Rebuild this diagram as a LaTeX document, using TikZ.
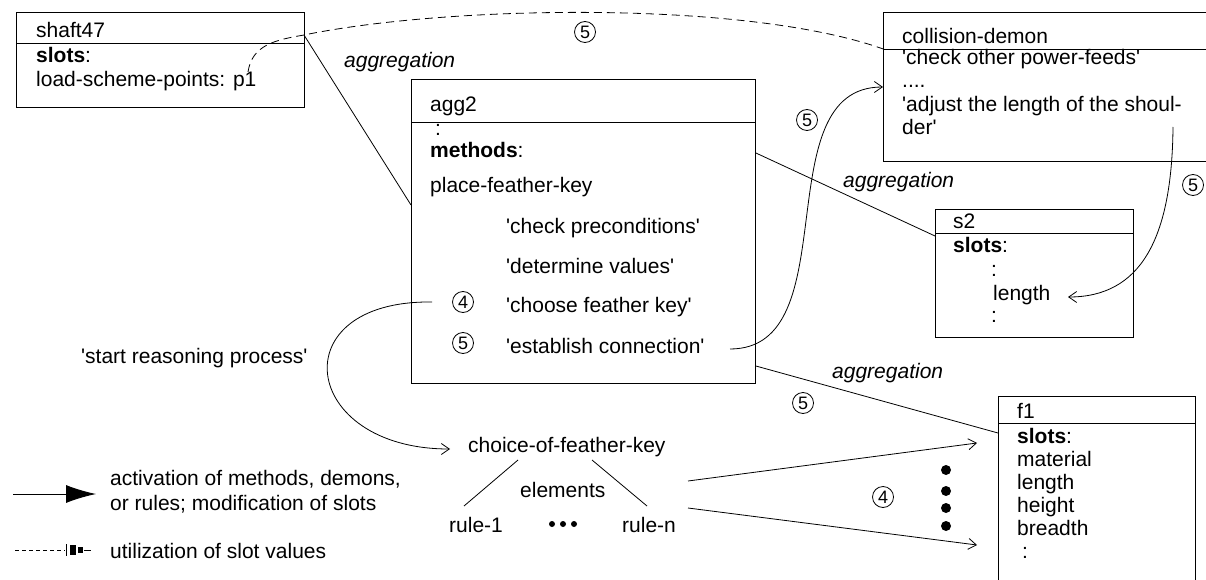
\documentclass[tikz,border=0pt]{standalone}
\usepackage{fontspec}
\setmainfont{Liberation Sans}[Ligatures=TeXOff]
\usetikzlibrary{arrows.meta}
\begin{document}
\begin{tikzpicture}[x=1pt,y=-1pt,
  every node/.style={inner sep=0pt,font=\fontsize{21}{23}\selectfont},
  txt/.style={anchor=base west},
  lbl/.style={anchor=base west,font=\fontsize{21}{23}\selectfont\itshape},
  num/.style={anchor=center,circle,draw,line width=0.8pt,minimum size=21pt,
              font=\fontsize{18}{18}\selectfont},
  framebox/.style={draw,line width=0.9pt,anchor=north west},
  conn/.style={line width=0.8pt},
  act/.style={line width=0.8pt,-{Straight Barb[length=8pt,width=11pt]}},
  util/.style={line width=0.8pt,dash pattern=on 8pt off 5pt},
  bigdot/.style={fill,circle,minimum size=10pt},
  smalldot/.style={fill,circle,minimum size=6pt}
  ]
\useasboundingbox (0,0) rectangle (1206,580);
\clip (0,0) rectangle (1206,580);

% ---------- shaft47 ----------
\node[framebox,minimum width=288pt,minimum height=95pt] (shaft) at (16,12) {};
\draw[line width=0.9pt] (shaft.west |- 0,43) -- (shaft.east |- 0,43);
\node[txt] (shaftname) at (36,38) {shaft47};
\node[txt] (shaftslots) at (36,63) {\textbf{slots}:};
\node[txt] (lsp) at (36,87) {load-scheme-points: p1};

% ---------- collision-demon ----------
\node[framebox,minimum width=340pt,minimum height=149pt] (demon) at (883,12) {};
\draw[line width=0.9pt] (demon.west |- 0,49) -- (demon.east |- 0,49);
\node[txt] (demonname) at (902,44) {collision-demon};
\node[txt] (dem1) at (902,65) {'check other power-feeds'};
\node[txt] (dem2) at (902,88) {....};
\node[txt] (dem3) at (902,112) {'adjust the length of the shoul-};
\node[txt] (dem4) at (902,135) {der'};

% ---------- agg2 ----------
\node[framebox,minimum width=344pt,minimum height=304pt] (agg) at (411,79) {};
\draw[line width=0.9pt] (agg.west |- 0,122) -- (agg.east |- 0,122);
\node[txt] (aggname) at (430,112) {agg2};
\node[txt] (aggdots) at (435,136) {:};
\node[txt] (methods) at (430,158) {\textbf{methods}:};
\node[txt] (place) at (430,193) {place-feather-key};
\node[txt] (check) at (506,233) {'check preconditions'};
\node[txt] (determine) at (506,273) {'determine values'};
\node[txt] (choose) at (506,312) {'choose feather key'};
\node[txt] (estab) at (506,353) {'establish connection'};
\node[num] (n4a) at (463,302) {4};
\node[num] (n5a) at (463,343) {5};

% ---------- s2 ----------
\node[framebox,minimum width=198pt,minimum height=128pt] (s2) at (935,209) {};
\draw[line width=0.9pt] (s2.west |- 0,233) -- (s2.east |- 0,233);
\node[txt] (s2name) at (953,228) {s2};
\node[txt] (s2slots) at (953,252) {\textbf{slots}:};
\node[txt] (s2d1) at (991,276) {:};
\node[txt] (len) at (993,300) {length};
\node[txt] (s2d2) at (991,322) {:};

% ---------- f1 ----------
\node[framebox,minimum width=197pt,minimum height=200pt] (f1) at (998,396) {};
\draw[line width=0.9pt] (f1.west |- 0,423) -- (f1.east |- 0,423);
\node[txt] (f1name) at (1017,418) {f1};
\node[txt] (f1slots) at (1017,443) {\textbf{slots}:};
\node[txt] (mat) at (1017,466) {material};
\node[txt] (flen) at (1017,489) {length};
\node[txt] (hei) at (1017,512) {height};
\node[txt] (bre) at (1017,535) {breadth};
\node[txt] (f1d) at (1022,558) {:};

% ---------- rules ----------
\node[txt] (choice) at (468,452) {choice-of-feather-key};
\node[txt] (elements) at (520,497) {elements};
\node[txt] (rule1) at (449,532) {rule-1};
\node[txt] (rulen) at (622,532) {rule-n};
\node[smalldot] (d1) at (552,524) {};
\node[smalldot] (d2) at (563,524) {};
\node[smalldot] (d3) at (574,524) {};
\node[txt] (start) at (81,363) {'start reasoning process'};

% ---------- labels ----------
\node[lbl] (agl1) at (344,68) {aggregation};
\node[lbl] (agl2) at (843,187) {aggregation};
\node[lbl] (agl3) at (832,378) {aggregation};
\node[num] (n5top) at (585,32) {5};
\node[num] (n5mid) at (807,120) {5};
\node[num] (n5right) at (1193,185) {5};
\node[num] (n5low) at (803,403) {5};
\node[num] (n4low) at (883,497) {4};
\node[bigdot] (b1) at (946,470) {};
\node[bigdot] (b2) at (946,491) {};
\node[bigdot] (b3) at (946,508) {};
\node[bigdot] (b4) at (946,526) {};

% ---------- connector end points ----------
\coordinate (p1) at (248,72);
\coordinate (shaftR) at (304,35);
\coordinate (demonIn) at (886,50);
\coordinate (estabR) at (730,349);
\coordinate (demonArr) at (883,87);
\coordinate (demonOut) at (1173,127);
\coordinate (lenArr) at (1068,297);
\coordinate (chooseL) at (432,302);
\coordinate (choiceArr) at (450,449);
\coordinate (tl1) at (518,460);
\coordinate (tl2) at (464,506);
\coordinate (tr1) at (592,460);
\coordinate (tr2) at (647,506);
\coordinate (ra1) at (688,481);
\coordinate (ra2) at (688,508);
\coordinate (fa1) at (977,443);
\coordinate (fa2) at (977,545);

% ---------- connectors ----------
\draw[conn] (shaftR) -- (agg.west |- 0,205);
\draw[conn] (agg.east |- 0,153) -- (s2.west |- 0,236);
\draw[conn] (agg.east |- 0,366) -- (f1.west |- 0,433);
\draw[util] (p1) .. controls (252,45) and (275,40) .. (shaftR)
  .. controls (450,5) and (750,0) .. (demonIn);
\draw[act] (estabR) .. controls (849,349) and (764,87) .. (demonArr);
\draw[act] (demonOut) .. controls (1172,240) and (1140,297) .. (lenArr);
\draw[act] (chooseL) .. controls (280,300) and (300,449) .. (choiceArr);
\draw[conn] (tl1) -- (tl2);
\draw[conn] (tr1) -- (tr2);
\draw[act] (ra1) -- (fa1);
\draw[act] (ra2) -- (fa2);

% ---------- legend ----------
\coordinate (lg1s) at (13,494);
\coordinate (lg1e) at (96,494);
\draw[line width=0.9pt,-{Latex[length=30pt,width=18pt]}] (lg1s) -- (lg1e);
\node[txt] (leg1a) at (110,485) {activation of methods, demons,};
\node[txt] (leg1b) at (110,510) {or rules; modification of slots};
\coordinate (lg2s) at (15,550);
\coordinate (lg2e) at (65,550);
\draw[line width=0.7pt,dash pattern=on 4pt off 3pt] (lg2s) -- (lg2e);
\draw[line width=0.7pt] (66,544) -- (66,556);
\fill (70,545) rectangle (76,555);
\fill (78,547) rectangle (83,553);
\draw[line width=1pt] (84,550) -- (91,550);
\node[txt] (leg2) at (110,558) {utilization of slot values};
\end{tikzpicture}
\end{document}
